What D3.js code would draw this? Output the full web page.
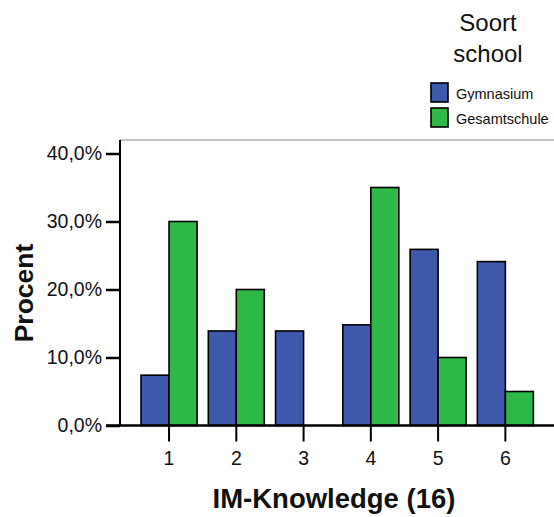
<!DOCTYPE html>
<html>
<head>
<meta charset="utf-8">
<script src="https://cdn.jsdelivr.net/npm/d3@7"></script>
<style>
  html, body { margin: 0; padding: 0; background: #fff; }
  svg { display: block; font-family: "Liberation Sans", Arial, sans-serif; }
</style>
</head>
<body>
<svg id="chart" width="554" height="517"></svg>
<script>
const categories = ["1", "2", "3", "4", "5", "6"];
const seriesNames = ["Gymnasium", "Gesamtschule"];
const gymnasium = [7.4, 13.9, 13.9, 14.8, 25.9, 24.1];
const gesamtschule = [30.0, 20.0, 0.0, 35.0, 10.0, 5.0];
const yTicks = [0, 10, 20, 30, 40];
const colors = ["#3e58ac", "#2eb848"];
const xTitle = "IM-Knowledge (16)";
const yTitle = "Procent";
const legendTitle = ["Soort", "school"];

const svg = d3.select("#chart");
const values = [gymnasium, gesamtschule];

const x0 = d3.scaleBand().domain(categories).range([135.4, 539]).padding(0);
const bw = x0.bandwidth();
const x1 = d3.scaleBand().domain(seriesNames).range([bw / 2 - 28, bw / 2 + 28]).padding(0);
const y = d3.scaleLinear().domain([0, 40]).range([425.5, 153.5]);

// frame top line
svg.append("line").attr("x1", 120).attr("x2", 554).attr("y1", 140).attr("y2", 140)
  .attr("stroke", "#888").attr("stroke-width", 1);

// bars
const groups = svg.append("g").selectAll("g").data(categories).join("g")
  .attr("transform", d => `translate(${x0(d)},0)`);
groups.selectAll("rect")
  .data((c, i) => seriesNames.map((s, j) => ({ s, j, v: values[j][i] })))
  .join("rect")
  .attr("x", d => x1(d.s))
  .attr("width", x1.bandwidth())
  .attr("y", d => y(d.v))
  .attr("height", d => y(0) - y(d.v))
  .attr("fill", d => colors[d.j])
  .attr("stroke", d => d.v === 0 ? "#555" : "#000")
  .attr("stroke-width", 1.6);

// y axis
const yAxis = d3.axisLeft(y).tickValues(yTicks).tickSize(14).tickPadding(4)
  .tickFormat(d => d3.format(".1f")(d).replace(".", ",") + "%");
const gy = svg.append("g").attr("transform", "translate(120,0)").call(yAxis);
gy.select(".domain").remove();
gy.append("line").attr("x1", 0).attr("x2", 0).attr("y1", 140).attr("y2", 425.5)
  .attr("stroke", "#000").attr("stroke-width", 2);
gy.selectAll(".tick line").attr("stroke", "#000").attr("stroke-width", 2.5);
gy.selectAll(".tick text").attr("font-size", 19.5).attr("fill", "#111")
  .attr("font-family", "'Liberation Sans', Arial, sans-serif");

// x axis
const xAxis = d3.axisBottom(x0).tickSize(16).tickPadding(10);
const gx = svg.append("g").attr("transform", "translate(0,425.5)").call(xAxis);
gx.select(".domain").remove();
gx.append("line").attr("x1", 106).attr("x2", 554).attr("y1", 0).attr("y2", 0)
  .attr("stroke", "#000").attr("stroke-width", 2.5);
gx.selectAll(".tick line").attr("stroke", "#000").attr("stroke-width", 2);
gx.selectAll(".tick text").attr("font-size", 19.5).attr("fill", "#111")
  .attr("font-family", "'Liberation Sans', Arial, sans-serif");

// axis titles
svg.append("text").attr("x", 334).attr("y", 508).attr("text-anchor", "middle")
  .attr("font-size", 27.5).attr("font-weight", "bold").attr("fill", "#111").text(xTitle);
svg.append("text").attr("transform", "translate(33,293) rotate(-90)")
  .attr("text-anchor", "middle").attr("font-size", 26.5).attr("font-weight", "bold")
  .attr("fill", "#111").text(yTitle);

// legend
const lg = svg.append("g");
lg.selectAll("text.lt").data(legendTitle).join("text").attr("class", "lt")
  .attr("x", 488).attr("y", (d, i) => 31 + i * 31).attr("text-anchor", "middle")
  .attr("font-size", 24).attr("fill", "#111").text(d => d);
const items = lg.selectAll("g.item").data(seriesNames).join("g").attr("class", "item")
  .attr("transform", (d, i) => `translate(431,${83 + i * 25})`);
items.append("rect").attr("width", 17).attr("height", 19)
  .attr("fill", (d, i) => colors[i]).attr("stroke", "#000").attr("stroke-width", 1.6);
items.append("text").attr("x", 25).attr("y", 16).attr("font-size", 14.5)
  .attr("fill", "#111").text(d => d);
</script>
</body>
</html>
